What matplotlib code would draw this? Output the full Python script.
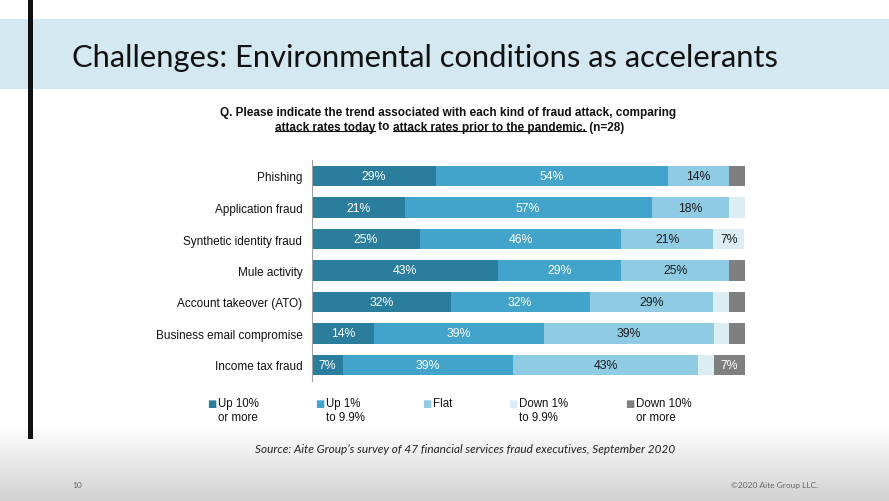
import matplotlib
matplotlib.use("Agg")
import matplotlib.pyplot as plt
import numpy as np
from matplotlib.lines import Line2D

W, H = 889, 502

categories = ["Phishing", "Application fraud", "Synthetic identity fraud", "Mule activity",
              "Account takeover (ATO)", "Business email compromise", "Income tax fraud"]
up10 = [28.6, 21.4, 25.0, 42.9, 32.1, 14.3, 7.1]
up1 = [53.6, 57.1, 46.4, 28.6, 32.1, 39.3, 39.3]
flat = [14.3, 17.9, 21.4, 25.0, 28.6, 39.3, 42.9]
down1 = [0.0, 3.6, 7.1, 0.0, 3.6, 3.6, 3.6]
down10 = [3.6, 0.0, 0.0, 3.6, 3.6, 3.6, 7.1]

series_names = ["Up 10%\nor more", "Up 1%\nto 9.9%", "Flat", "Down 1%\nto 9.9%", "Down 10%\nor more"]
colors = ["#2b7d9e", "#42a3cb", "#8fcbe3", "#dcedf4", "#7f7f7f"]
label_colors = ["white", "white", "#1a1a1a", "#1a1a1a", "white"]

title = "Challenges: Environmental conditions as accelerants"
source = "Source: Aite Group\u2019s survey of 47 financial services fraud executives, September 2020"


def px(x, y):
    return x / W, 1 - y / H


fig = plt.figure(figsize=(W / 100, H / 100), dpi=100)

# фон: полоса заголовка и серый градиент снизу
bg = fig.add_axes([0, 0, 1, 1])
grad = np.linspace(0, 1, 100).reshape(-1, 1)
bg.imshow(grad, extent=(0, W, 502, 425), cmap=matplotlib.colors.LinearSegmentedColormap.from_list(
    "g", ["#ffffff", "#d2d2d2"]), aspect="auto", zorder=0)
bg.set_xlim(0, W)
bg.set_ylim(H, 0)
bg.axis("off")
bg.add_patch(plt.Rectangle((0, 20), W, 70, color="#d3e8f0", lw=0, zorder=1))
bg.add_patch(plt.Rectangle((28, 0), 5, 440, color="#111111", lw=0, zorder=2))

t = fig.text(*px(72, 58), title, fontsize=24, family="Lato", va="center", ha="left", color="#111111")
fig.canvas.draw()
tw = t.get_window_extent().width
t.set_fontsize(24 * 708 / tw)

q_font = dict(family="Liberation Sans", fontsize=8.45, fontweight="bold", color="#111111")
fig.text(*px(448, 113), "Q. Please indicate the trend associated with each kind of fraud attack, comparing",
         ha="center", va="center", **q_font)
pieces = ["attack rates today", " to ", "attack rates prior to the pandemic.", " (n=28)"]
parts = [fig.text(0, 0, p, ha="left", va="baseline", **q_font) for p in pieces]

# столбцы
ax = fig.add_axes([312 / W, 1 - 381.75 / H, (745 - 312) / W, (381.75 - 161.25) / H])
y = np.arange(len(categories))
left = np.zeros(len(categories))
for vals, c, lc in zip([up10, up1, flat, down1, down10], colors, label_colors):
    vals = np.array(vals)
    ax.barh(y, vals, left=left, height=0.66, color=c, lw=0)
    for yi, (l, v) in enumerate(zip(left, vals)):
        if v > 5:
            ax.text(l + v / 2, yi, f"{v:.0f}%", ha="center", va="center", fontsize=8.8,
                    family="Liberation Sans", color=lc)
    left += vals
ax.set_ylim(len(categories) - 0.5, -0.5)
ax.set_xlim(0, left.max())
ax.set_yticks(y)
ax.set_yticklabels(categories, family="Liberation Sans", fontsize=8.5, color="#111111")
ax.tick_params(axis="y", length=0, pad=7)
ax.set_xticks([])
for s in ["top", "right", "bottom"]:
    ax.spines[s].set_visible(False)
ax.spines["left"].set_color("#a0a0a0")
ax.spines["left"].set_linewidth(0.8)
ax.patch.set_alpha(0)

# легенда
leg_x = [212, 320, 427, 513, 630]
for xx, name, c in zip(leg_x, series_names, colors):
    fig.text(*px(xx, 404.5), "\u25a0", color=c, fontsize=7, ha="center", va="center", family="DejaVu Sans")
    fig.text(*px(xx + 6, 398.5), name, fontsize=8.3, family="Liberation Sans", color="#111111",
             ha="left", va="top", linespacing=1.15)

fig.text(*px(465, 450), source, fontsize=8.5, family="Lato", style="italic", ha="center",
         va="center", color="#222222")
fig.text(*px(72, 486), "10", fontsize=6, family="Lato", color="#666666", va="center")
fig.text(*px(818, 486), "\u00a92020 Aite Group LLC.", fontsize=6, family="Lato", color="#666666",
         va="center", ha="right")

# вторая строка вопроса по кусочкам, с подчёркиванием
fig.canvas.draw()
r = fig.canvas.get_renderer()
base_y = 1 - 130.5 / H
x0 = 275
for p in parts:
    p.set_position((x0 / W, base_y))
    fig.canvas.draw()
    x0 = p.get_window_extent(r).x1
for p in (parts[0], parts[2]):
    bb = p.get_window_extent(r)
    uy = base_y - 1.8 / H
    fig.add_artist(Line2D([bb.x0 / W, bb.x1 / W], [uy, uy], color="#111111", lw=0.8))

fig.savefig("out.png", dpi=100)
